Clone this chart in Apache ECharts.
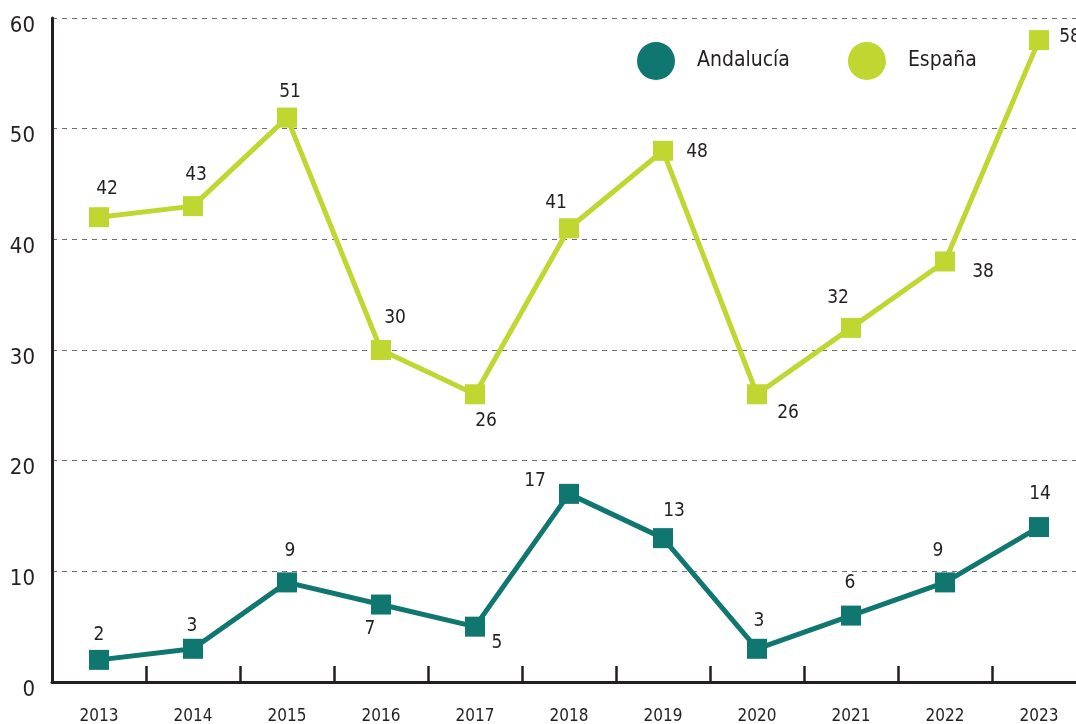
<!DOCTYPE html>
<html>
<head>
<meta charset="utf-8">
<script src="https://cdn.jsdelivr.net/npm/echarts@6/dist/echarts.min.js"></script>
<style>
  html, body { margin: 0; padding: 0; background: #ffffff; overflow: hidden; }
  body { width: 1076px; height: 724px; }
  /* The plot runs a little past the right edge of the page */
  #chart { width: 1090px; height: 724px; }
</style>
</head>
<body>
<div id="chart"></div>
<script>
// Yearly values for Andalucía and España
const years = ['2013', '2014', '2015', '2016', '2017', '2018', '2019', '2020', '2021', '2022', '2023'];
const andalucia = [2, 3, 9, 7, 5, 17, 13, 3, 6, 9, 14];
const espana = [42, 43, 51, 30, 26, 41, 48, 26, 32, 38, 58];

// Label placement around each marker (pixel offsets from the marker centre)
const andaluciaLabelOffsets = [[0, -25], [-1, -23], [3, -31], [-11, 25], [22, 16], [-34, -13], [11, -27], [2, -28], [-1, -33], [-7, -31], [1, -33]];
const espanaLabelOffsets = [[8, -28], [3, -31], [3, -26], [14, -32], [11, 27], [-13, -25], [34, 1], [31, 19], [-13, -30], [38, 11], [31, -3]];

const FONT = '"Liberation Sans Narrow", "DejaVu Sans Condensed", "Roboto", sans-serif';
const TEAL = '#0f7670';
const LIME = '#bfd730';
const INK = '#231f20';

function withLabels(values, offsets) {
  return values.map((v, i) => ({
    value: v,
    label: { offset: offsets[i] }
  }));
}

const chart = echarts.init(document.getElementById('chart'), null, { renderer: 'canvas' });

chart.setOption({
  animation: false,
  backgroundColor: '#ffffff',
  grid: { left: 52, right: 4, top: 18, bottom: 42, containLabel: false, outerBoundsMode: 'none' },
  legend: {
    data: [
      { name: 'Andalucía', icon: 'circle' },
      { name: 'España', icon: 'circle' }
    ],
    left: 632,
    top: 37,
    itemWidth: 38,
    itemHeight: 38,
    itemGap: 58,
    textStyle: { fontFamily: FONT, fontSize: 21, color: INK, padding: [0, 0, 0, 17] }
  },
  xAxis: {
    type: 'category',
    data: years,
    boundaryGap: true,
    axisLine: { lineStyle: { color: INK, width: 3 } },
    axisTick: { show: true, inside: true, length: 16, lineStyle: { color: INK, width: 2.5 } },
    axisLabel: { fontFamily: FONT, fontSize: 17, color: INK, margin: 26 }
  },
  yAxis: {
    type: 'value',
    min: 0,
    max: 60,
    interval: 10,
    axisLine: { show: true, lineStyle: { color: INK, width: 3 } },
    axisTick: { show: false },
    splitLine: { lineStyle: { color: '#6d6e71', type: [5, 5], width: 1 } },
    axisLabel: { fontFamily: FONT, fontSize: 22, color: INK, margin: 17, verticalAlign: 'top', lineHeight: 16 }
  },
  series: [
    {
      name: 'Andalucía',
      type: 'line',
      data: withLabels(andalucia, andaluciaLabelOffsets),
      symbol: 'rect',
      symbolSize: 20,
      lineStyle: { color: TEAL, width: 5 },
      itemStyle: { color: TEAL },
      label: { show: true, position: 'inside', fontFamily: FONT, fontSize: 19, color: INK }
    },
    {
      name: 'España',
      type: 'line',
      data: withLabels(espana, espanaLabelOffsets),
      symbol: 'rect',
      symbolSize: 20,
      lineStyle: { color: LIME, width: 5 },
      itemStyle: { color: LIME },
      label: { show: true, position: 'inside', fontFamily: FONT, fontSize: 19, color: INK }
    }
  ]
});
</script>
</body>
</html>
